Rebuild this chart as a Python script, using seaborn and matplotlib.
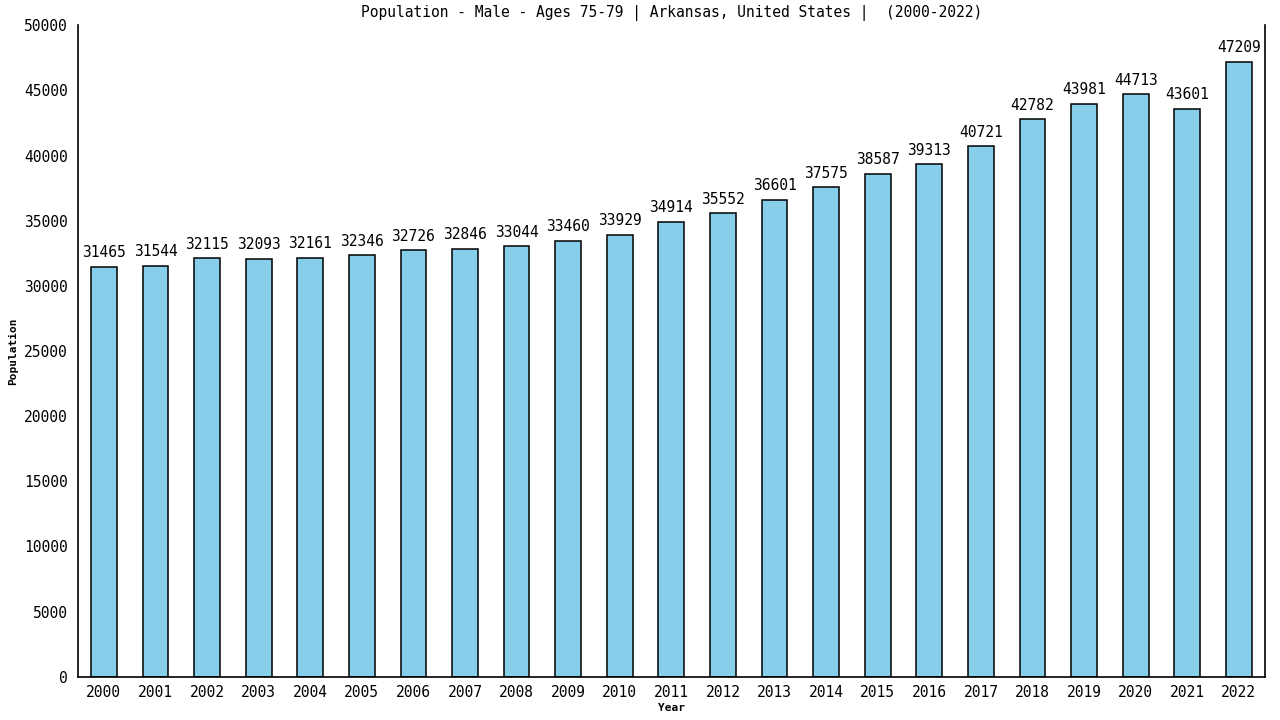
import matplotlib
matplotlib.use("Agg")
import matplotlib.pyplot as plt
import seaborn as sns
import pandas as pd

# data
years = [str(y) for y in range(2000, 2023)]
population = [31465, 31544, 32115, 32093, 32161, 32346, 32726, 32846, 33044, 33460,
              33929, 34914, 35552, 36601, 37575, 38587, 39313, 40721, 42782, 43981,
              44713, 43601, 47209]

df = pd.DataFrame({"Year": years, "Population": population})

sns.set_style("white")
plt.rcParams['font.family'] = ['DejaVu Sans Mono', 'DejaVu Sans']
plt.rcParams['text.color'] = 'black'
plt.rcParams['axes.labelcolor'] = 'black'
plt.rcParams['xtick.color'] = 'black'
plt.rcParams['ytick.color'] = 'black'

fig = plt.figure(figsize=(12.8, 7.2), dpi=100)
ax = fig.add_axes([0.061, 0.06, 0.927, 0.905])

sns.barplot(data=df, x="Year", y="Population", color="#87ceeb",
            edgecolor="black", linewidth=1.1, width=0.5, saturation=1, ax=ax)

for i, v in enumerate(population):
    ax.text(i, v + 500, str(v), ha="center", va="bottom", fontsize=10.5, color="black")

ax.set_xlim(-0.5, len(years) - 0.5)
ax.set_ylim(0, 50000)
ax.set_yticks(range(0, 50001, 5000))
ax.tick_params(axis="y", direction="inout", length=8, width=1, labelsize=10.5, colors="black")
ax.tick_params(axis="x", length=0, labelsize=10.5, pad=6, colors="black")
for s in ["left", "right", "bottom"]:
    ax.spines[s].set_visible(True)
    ax.spines[s].set_color("black")
    ax.spines[s].set_linewidth(1.2)
ax.spines["top"].set_visible(False)

ax.set_title("Population - Male - Ages 75-79 | Arkansas, United States |  (2000-2022)",
             fontsize=10.5, pad=6, color="black")
ax.set_xlabel("Year", fontsize=8, fontweight="bold", labelpad=2)
ax.set_ylabel("Population", fontsize=8, fontweight="bold", labelpad=4)

fig.savefig("out.png", dpi=100)
